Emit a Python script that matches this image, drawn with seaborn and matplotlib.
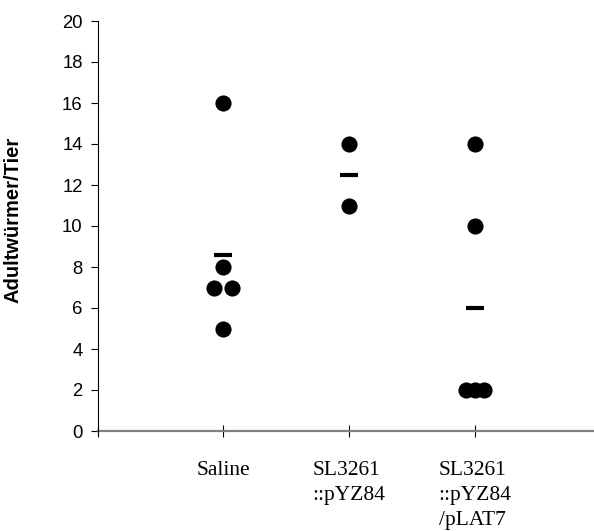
import numpy as np
import pandas as pd
import matplotlib
matplotlib.use("Agg")
import matplotlib.pyplot as plt
import seaborn as sns

# ---- data ----
groups = ["Saline", "SL3261\n::pYZ84", "SL3261\n::pYZ84\n/pLAT7"]
saline = [16, 8, 7, 7, 5]
pyz84 = [14, 11]
plat7 = [14, 10, 2, 2, 2]
y_ticks = list(range(0, 21, 2))
y_label = "Adultwürmer/Tier"

sns.set_theme(style="white")
plt.rcParams["font.family"] = ["Liberation Sans", "DejaVu Sans"]
plt.rcParams["text.color"] = "black"
plt.rcParams["axes.labelcolor"] = "black"
plt.rcParams["xtick.color"] = "black"
plt.rcParams["ytick.color"] = "black"

values = [saline, pyz84, plat7]
rows = []
for gi, vals in enumerate(values):
    for v in vals:
        rows.append({"group": groups[gi], "code": gi, "value": v})
df = pd.DataFrame(rows)

# spread tied values side by side (dodge-like, computed from the data)
half_spread = 0.075
df["xpos"] = df["code"].astype(float)
for (g, v), idx in df.groupby(["code", "value"]).groups.items():
    n = len(idx)
    if n > 1:
        df.loc[idx, "xpos"] = g + np.linspace(-half_spread, half_spread, n)

fig = plt.figure(figsize=(5.94, 5.31), dpi=100)
ax = fig.add_axes([98 / 594, 100 / 531, 496 / 594, 410 / 531])

sns.scatterplot(data=df, x="xpos", y="value", color="black", s=135,
                edgecolor="black", linewidth=0, ax=ax, zorder=3)
sns.pointplot(data=df, x="code", y="value", estimator="mean", errorbar=None,
              native_scale=True, markers="_", linestyle="none", color="black",
              markersize=12.5, markeredgewidth=3, ax=ax, zorder=4)

ax.set_xlim(-0.992, 2.944)
ax.set_ylim(0, 20)
ax.set_yticks(y_ticks)
ax.set_yticklabels([str(t) for t in y_ticks], fontsize=13.3,
                   fontfamily="Liberation Sans", color="black")
ax.set_xticks([0, 1, 2])
ax.set_xticklabels(groups, fontsize=15.5, fontfamily="Liberation Serif",
                   multialignment="left", linespacing=1.42, color="black")
ax.set_xticks([-0.992], minor=True)

ax.set_xlabel("")
ax.set_ylabel(y_label, fontsize=14.5, fontweight="bold",
              fontfamily="Liberation Sans", color="black")
ax.yaxis.set_label_coords(-0.152, 0.515)

for s in ["top", "right"]:
    ax.spines[s].set_visible(False)
ax.spines["left"].set_color("black")
ax.spines["left"].set_linewidth(0.8)
ax.spines["bottom"].set_color("#808080")
ax.spines["bottom"].set_linewidth(1.6)
ax.spines["left"].set_zorder(5)

ax.tick_params(axis="y", direction="out", length=5, width=0.8, color="black",
               pad=6, left=True)
ax.tick_params(axis="x", which="both", direction="inout", length=9, width=0.8,
               color="black", pad=17, bottom=True)
ax.grid(False)
ax.set_facecolor("white")
fig.patch.set_facecolor("white")

fig.savefig("out.png", dpi=100)
